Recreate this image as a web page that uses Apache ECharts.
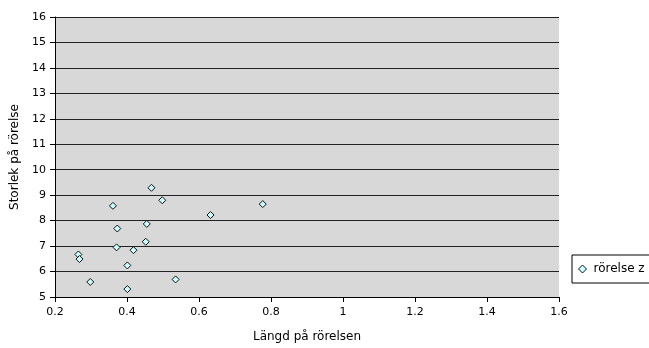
<!DOCTYPE html>
<html>
<head>
<meta charset="utf-8">
<script src="https://cdn.jsdelivr.net/npm/echarts@6/dist/echarts.min.js"></script>
<style>html,body{margin:0;padding:0;background:#fff}#c{width:649px;height:348px}</style>
</head>
<body>
<div id="c"></div>
<script>
const seriesName = 'rörelse z';
const xTitle = 'Längd på rörelsen';
const yTitle = 'Storlek på rörelse';
const lengths = [0.468, 0.498, 0.361, 0.777, 0.632, 0.455, 0.373, 0.452, 0.371, 0.418, 0.265, 0.268, 0.401, 0.535, 0.298, 0.401];
const sizes   = [9.29, 8.80, 8.58, 8.65, 8.22, 7.87, 7.69, 7.17, 6.95, 6.84, 6.67, 6.49, 6.24, 5.69, 5.59, 5.31];

const points = lengths.map((x, i) => [x, sizes[i]]);
const font = 'DejaVu Sans';
const markerStyle = {color: '#ccffff', borderColor: '#111', borderWidth: 1, opacity: 1};
const chart = echarts.init(document.getElementById('c'), null, {renderer: 'canvas'});
chart.setOption({
  animation: false,
  backgroundColor: '#fff',
  grid: {left: 55, right: 90, top: 17, bottom: 51, show: true, backgroundColor: '#d8d8d8', borderWidth: 0},
  legend: {
    left: 572, top: 255, orient: 'vertical',
    data: [{name: seriesName, icon: 'diamond', itemStyle: markerStyle}],
    itemWidth: 8, itemHeight: 8, itemGap: 4,
    padding: [8, 10, 8, 6],
    borderColor: '#000', borderWidth: 1,
    textStyle: {fontFamily: font, fontSize: 12, color: '#000', padding: [0, 0, 0, 2]}
  },
  xAxis: {
    type: 'value', min: 0.2, max: 1.6, interval: 0.2,
    name: xTitle, nameLocation: 'middle', nameGap: 34,
    nameTextStyle: {fontFamily: font, fontSize: 12, color: '#000'},
    axisLine: {show: true, onZero: false, lineStyle: {color: '#000', width: 1}},
    axisTick: {show: true, inside: false, length: 5, lineStyle: {color: '#000'}},
    axisLabel: {fontFamily: font, fontSize: 11, color: '#000', margin: 10,
      formatter: v => String(+v.toFixed(1))},
    splitLine: {show: false}
  },
  yAxis: {
    type: 'value', min: 5, max: 16, interval: 1,
    name: yTitle, nameLocation: 'middle', nameGap: 29,
    nameTextStyle: {fontFamily: font, fontSize: 12, color: '#000'},
    axisLine: {show: true, onZero: false, lineStyle: {color: '#000', width: 1}},
    axisTick: {show: true, inside: false, length: 5, lineStyle: {color: '#000'}},
    axisLabel: {fontFamily: font, fontSize: 11, color: '#000', margin: 9},
    splitLine: {show: true, lineStyle: {color: '#222', width: 1}}
  },
  series: [{
    name: seriesName, type: 'scatter', data: points,
    symbol: 'diamond', symbolSize: 7,
    itemStyle: markerStyle
  }]
});
</script>
</body>
</html>
